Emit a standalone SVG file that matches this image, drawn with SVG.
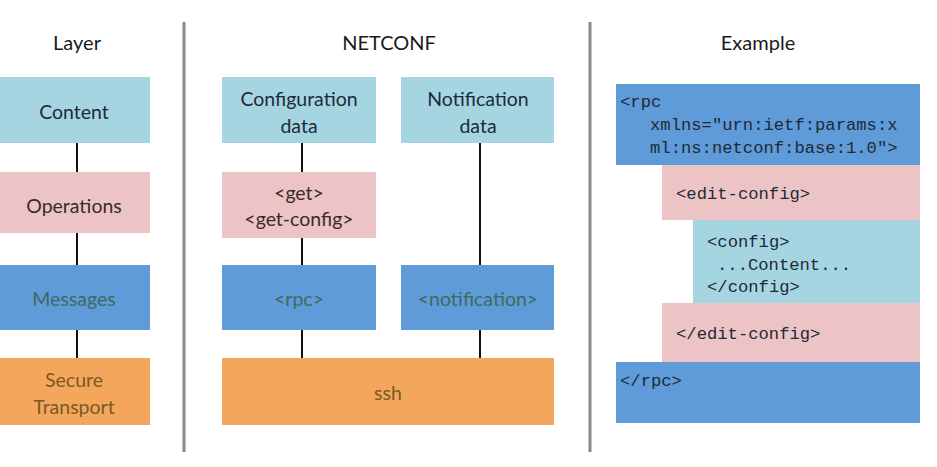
<svg xmlns="http://www.w3.org/2000/svg" width="937" height="467" viewBox="0 0 937 467">
<style>
.t{font-family:Lato,"Open Sans","Noto Sans",sans-serif;font-size:19.5px;text-anchor:middle}
.h{font-family:Lato,"Open Sans","Noto Sans",sans-serif;font-size:20px;text-anchor:middle;fill:#1a1a1a}
.m{font-family:"Liberation Mono","DejaVu Sans Mono",monospace;font-size:17.2px;fill:#1e2a36}
.lb{fill:#a6d5e2}
.pk{fill:#ecc4c5}
.bl{fill:#5f9bd8}
.or{fill:#f4a75c}
.dk{fill:#1c2b3a}
.op{fill:#3a2a2c}
.gr{fill:#3d6b5e}
.br{fill:#7a5a20}
.c line{stroke:#111;stroke-width:2}
.div{stroke:#8a8a8a;stroke-width:3}
</style>
<rect width="937" height="467" fill="#ffffff"/>
<line class="div" x1="184" y1="22" x2="184" y2="452"/>
<line class="div" x1="590" y1="22" x2="590" y2="452"/>
<text class="h" x="77" y="50">Layer</text>
<text class="h" x="389" y="50">NETCONF</text>
<text class="h" x="758" y="50">Example</text>
<g class="c" id="connectors">
<line x1="77" y1="143" x2="77" y2="172"/>
<line x1="77" y1="233" x2="77" y2="265"/>
<line x1="77" y1="330" x2="77" y2="358"/>
<line x1="302" y1="143" x2="302" y2="172"/>
<line x1="302" y1="238" x2="302" y2="265"/>
<line x1="302" y1="330" x2="302" y2="358"/>
<line x1="480" y1="143" x2="480" y2="265"/>
<line x1="480" y1="330" x2="480" y2="358"/>
</g>
<g id="content"><rect class="lb" x="0" y="77" width="150" height="66"/><text class="t dk" x="74" y="119">Content</text></g>
<g id="operations"><rect class="pk" x="0" y="172" width="150" height="61"/><text class="t op" x="74" y="213">Operations</text></g>
<g id="messages"><rect class="bl" x="0" y="265" width="150" height="65"/><text class="t gr" x="74" y="306">Messages</text></g>
<g id="secure-transport"><rect class="or" x="0" y="358" width="150" height="67"/><text class="t br" x="74" y="387">Secure</text><text class="t br" x="74" y="414">Transport</text></g>
<g id="config-data"><rect class="lb" x="222" y="77" width="154" height="66"/><text class="t dk" x="299" y="106">Configuration</text><text class="t dk" x="299" y="133">data</text></g>
<g id="notification-data"><rect class="lb" x="401" y="77" width="153" height="66"/><text class="t dk" x="478" y="106">Notification</text><text class="t dk" x="478" y="133">data</text></g>
<g id="get"><rect class="pk" x="222" y="172" width="154" height="66"/><text class="t op" x="299" y="200">&lt;get&gt;</text><text class="t op" x="299" y="226">&lt;get-config&gt;</text></g>
<g id="rpc"><rect class="bl" x="222" y="265" width="154" height="65"/><text class="t gr" x="299" y="306">&lt;rpc&gt;</text></g>
<g id="notification"><rect class="bl" x="401" y="265" width="153" height="65"/><text class="t gr" x="478" y="306">&lt;notification&gt;</text></g>
<g id="ssh"><rect class="or" x="222" y="358" width="332" height="67"/><text class="t br" x="388" y="400">ssh</text></g>
<g id="example">
<rect class="bl" x="616" y="84" width="304" height="81"/>
<rect class="pk" x="662" y="165" width="258" height="55"/>
<rect class="lb" x="693" y="220" width="227" height="83"/>
<rect class="pk" x="662" y="303" width="258" height="59"/>
<rect class="bl" x="616" y="362" width="304" height="61"/>
<text class="m" x="620" y="107">&lt;rpc</text>
<text class="m" x="650" y="130">xmlns="urn:ietf:params:x</text>
<text class="m" x="650" y="153">ml:ns:netconf:base:1.0"&gt;</text>
<text class="m" x="676" y="199">&lt;edit-config&gt;</text>
<text class="m" x="707" y="247">&lt;config&gt;</text>
<text class="m" x="717" y="270">...Content...</text>
<text class="m" x="707" y="292">&lt;/config&gt;</text>
<text class="m" x="676" y="339">&lt;/edit-config&gt;</text>
<text class="m" x="620" y="386">&lt;/rpc&gt;</text>
</g>
</svg>
